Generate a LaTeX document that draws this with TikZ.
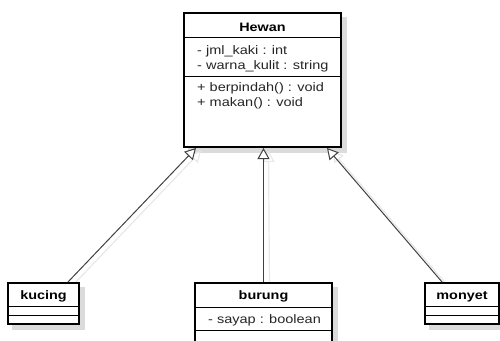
\documentclass[tikz,border=0pt]{standalone}
\usepackage{fontspec}
\setmainfont{Liberation Sans}[FakeStretch=1.18]
\usetikzlibrary{arrows.meta,backgrounds}
\begin{document}
\begin{tikzpicture}[x=1pt,y=-1pt,
  classbox/.style={draw=black, line width=1.4pt, fill=white, inner sep=0pt},
  boxshadow/.style={fill=black!14, draw=none},
  sepline/.style={draw=black, line width=0.9pt},
  title/.style={font=\fontsize{12.2}{14}\selectfont\bfseries, anchor=base, inner sep=0pt},
  member/.style={font=\fontsize{12.3}{14}\selectfont, text=black!85, anchor=base west, inner sep=0pt},
  inherit/.style={draw=black!75, line width=1pt, -{Triangle[open, length=11pt, width=12pt, fill=white]}},
  inhshadow/.style={draw=black!9, line width=1.2pt, -{Triangle[open, length=11pt, width=12pt, fill=none]}}
]
\useasboundingbox (0,0) rectangle (500,340);

% class boxes
\node[classbox, line width=2pt, minimum width=157pt, minimum height=134pt] (hewan) at (262.5,80) {};
\node[classbox, minimum width=71pt, minimum height=41pt] (kucing) at (43.5,303.5) {};
\node[classbox, minimum width=137pt, minimum height=62pt] (burung) at (263.5,314) {};
\node[classbox, minimum width=74pt, minimum height=41pt] (monyet) at (462,303.5) {};

% box shadows
\begin{scope}[on background layer]
  \foreach \b in {hewan,kucing,burung,monyet}
    \fill[boxshadow] ([shift={(5,5)}]\b.north west) rectangle ([shift={(5,5)}]\b.south east);
\end{scope}

% Hewan compartments
\draw[sepline] (184,37) -- (341,37);
\draw[sepline] (184,76) -- (341,76);
\node[title] (hewanT) at (262.5,31) {Hewan};
\node[member] (hA1) at (197,54) {- jml\_kaki : int};
\node[member] (hA2) at (197,69) {- warna\_kulit : string};
\node[member] (hM1) at (197,91) {+ berpindah() : void};
\node[member] (hM2) at (197,106) {+ makan() : void};

% kucing compartments
\draw[sepline] (8,306) -- (79,306);
\draw[sepline] (8,315) -- (79,315);
\node[title] (kucingT) at (43.5,299) {kucing};

% burung compartments
\draw[sepline] (195,307) -- (332,307);
\draw[sepline] (195,330) -- (332,330);
\node[title] (burungT) at (263.5,299) {burung};
\node[member] (bA1) at (208,323) {- sayap : boolean};

% monyet compartments
\draw[sepline] (425,306) -- (499,306);
\draw[sepline] (425,315) -- (499,315);
\node[title] (monyetT) at (462,299) {monyet};

% generalisation shadows
\begin{scope}[on background layer]
\draw[inhshadow] ([xshift=-7pt,yshift=-3pt]kucing.north east) -- ([xshift=18pt,yshift=-3pt]hewan.south west);
\draw[inhshadow] ([xshift=6pt,yshift=-3pt]burung.north) -- ([xshift=6pt,yshift=-3pt]hewan.south);
\draw[inhshadow] ([xshift=23pt,yshift=-3pt]monyet.north west) -- ([xshift=-10pt,yshift=-3pt]hewan.south east);
\end{scope}

% generalisations
\draw[inherit] ([xshift=-12pt]kucing.north east) -- ([xshift=13pt]hewan.south west);
\draw[inherit] (burung.north) -- (burung.north |- hewan.south);
\draw[inherit] ([xshift=18pt]monyet.north west) -- ([xshift=-15pt]hewan.south east);
\end{tikzpicture}
\end{document}
